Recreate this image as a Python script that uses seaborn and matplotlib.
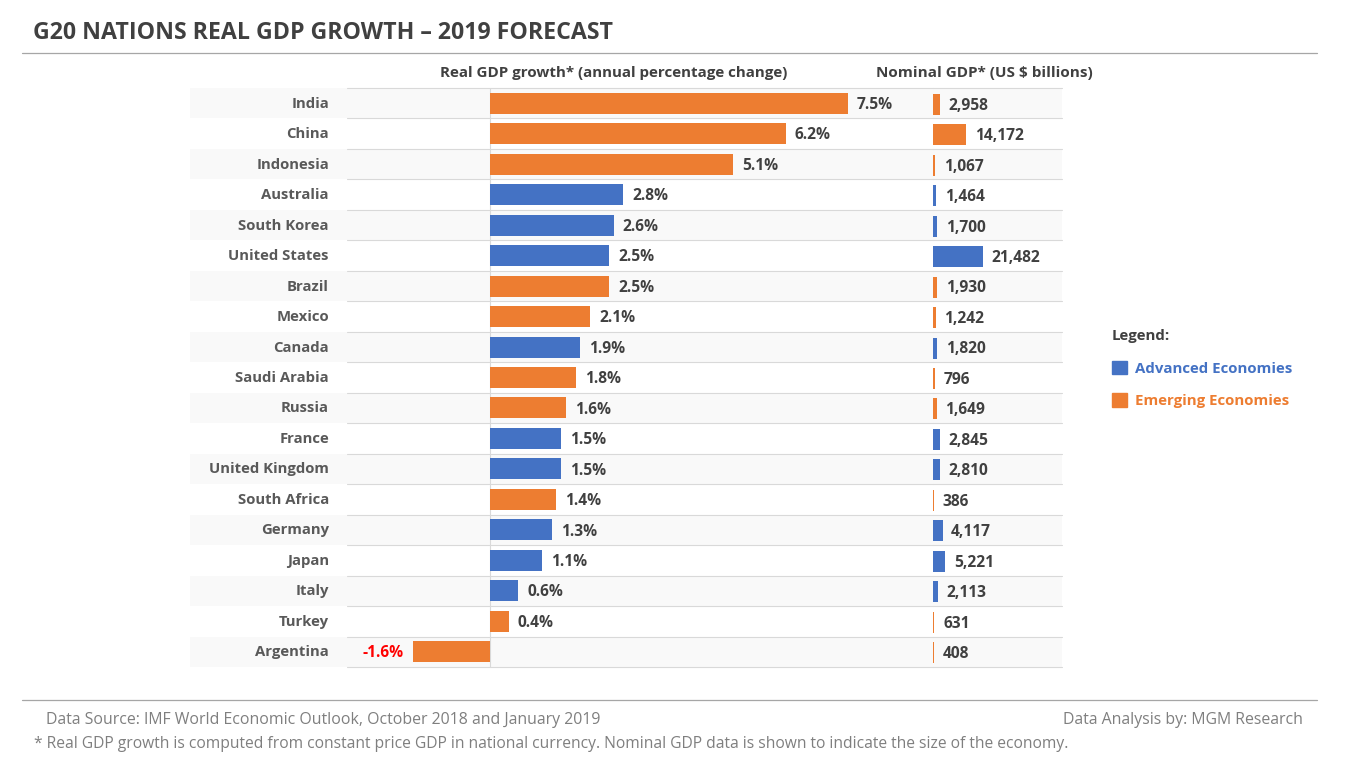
import pandas as pd
import matplotlib
matplotlib.use("Agg")
import matplotlib.pyplot as plt
from matplotlib.patches import Patch
from matplotlib.transforms import ScaledTranslation
import seaborn as sns

W, H = 1350, 767

countries = ["India", "China", "Indonesia", "Australia", "South Korea", "United States", "Brazil",
             "Mexico", "Canada", "Saudi Arabia", "Russia", "France", "United Kingdom", "South Africa",
             "Germany", "Japan", "Italy", "Turkey", "Argentina"]
growth = [7.5, 6.2, 5.1, 2.8, 2.6, 2.5, 2.5, 2.1, 1.9, 1.8, 1.6, 1.5, 1.5, 1.4, 1.3, 1.1, 0.6, 0.4, -1.6]
nominal = [2958, 14172, 1067, 1464, 1700, 21482, 1930, 1242, 1820, 796, 1649, 2845, 2810, 386, 4117, 5221,
           2113, 631, 408]
groups = ["Emerging", "Emerging", "Emerging", "Advanced", "Advanced", "Advanced", "Emerging", "Emerging",
          "Advanced", "Emerging", "Emerging", "Advanced", "Advanced", "Emerging", "Advanced", "Advanced",
          "Advanced", "Emerging", "Emerging"]

BLUE = "#4472C4"
ORANGE = "#ED7D31"
palette = {"Advanced": BLUE, "Emerging": ORANGE}

sns.set_theme(style="white")
plt.rcParams["font.family"] = ["Open Sans", "DejaVu Sans"]

df = pd.DataFrame({"Country": countries, "Growth": growth, "Nominal": nominal, "Group": groups})


def px_axes(fig, x0, y0, x1, y1):
    # position given in picture pixels, y from the top
    ax = fig.add_axes([x0 / W, 1 - y1 / H, (x1 - x0) / W, (y1 - y0) / H])
    ax.patch.set_alpha(0)
    for s in ax.spines.values():
        s.set_visible(False)
    return ax


fig = plt.figure(figsize=(W / 100, H / 100), dpi=100, facecolor="white")

# alternating row bands
bg = px_axes(fig, 190, 88, 1062, 667)
bg.set_xlim(0, 1)
bg.set_ylim(18.5, -0.5)
bg.set_xticks([])
bg.set_yticks([])
for i in range(0, len(countries), 2):
    bg.axhspan(i - 0.5, i + 0.5, color="#F9F9F9", lw=0)

# growth panel
ax1 = px_axes(fig, 347, 88, 933, 667)
sns.barplot(data=df, y="Country", x="Growth", hue="Group", palette=palette, dodge=False, legend=False,
            width=0.69, saturation=1, linewidth=0, ax=ax1)
ax1.set_xlim((347 - 489.5) / 47.8, (933 - 489.5) / 47.8)
ax1.set_ylim(18.5, -0.5)
ax1.set_xlabel("")
ax1.set_ylabel("")
ax1.set_xticks([])
ax1.tick_params(axis="y", length=0, pad=13)
for lab in ax1.get_yticklabels():
    lab.set_fontsize(10.75)
    lab.set_fontweight("bold")
    lab.set_color("#595959")
    lab.set_transform(lab.get_transform() + ScaledTranslation(0, 1 / 100, fig.dpi_scale_trans))
ax1.axvline(0, color="#D9D9D9", lw=0.8, zorder=0)
for i, v in enumerate(growth):
    if v < 0:
        ax1.annotate(f"{v:.1f}%", (v, i), xytext=(-6.5, -1.2), textcoords="offset points", ha="right",
                     va="center", fontsize=11.2, fontweight="bold", color="#FF0000")
    else:
        ax1.annotate(f"{v:.1f}%", (v, i), xytext=(6.5, -1.2), textcoords="offset points", ha="left",
                     va="center", fontsize=11.2, fontweight="bold", color="#404040")

# nominal GDP panel
ax2 = px_axes(fig, 933, 89, 1062, 668)
sns.barplot(data=df, y="Country", x="Nominal", hue="Group", palette=palette, dodge=False, legend=False,
            width=0.69, saturation=1, linewidth=0, ax=ax2)
ax2.set_xlim(0, 129 / (50 / 21482))
ax2.set_ylim(18.5, -0.5)
ax2.set_xlabel("")
ax2.set_ylabel("")
ax2.set_xticks([])
ax2.set_yticks([])
for i, v in enumerate(nominal):
    ax2.annotate(f"{v:,}", (v, i), xytext=(6.2, -1.0), textcoords="offset points", ha="left",
                 va="center", fontsize=11.2, fontweight="bold", color="#404040")

# row separators
for ax, off in ((ax1, 0), (ax2, 1 / 30.47)):
    for i in range(len(countries) + 1):
        ax.axhline(i - 0.5 - off, color="#D9D9D9", lw=0.8, zorder=0, clip_on=False)

fig.text(440 / W, 1 - 73 / H, "Real GDP growth* (annual percentage change)", fontsize=10.87, fontweight="bold",
         color="#404040", va="center")
fig.text(876 / W, 1 - 73 / H, "Nominal GDP* (US $ billions)", fontsize=10.95, fontweight="bold",
         color="#404040", va="center")

# title and footer
fig.text(33 / W, 1 - 33 / H, "G20 NATIONS REAL GDP GROWTH \u2013 2019 FORECAST", fontsize=16.65, fontweight="bold",
         color="#404040", va="center")
fig.add_artist(plt.Line2D([22 / W, 1317 / W], [1 - 53 / H] * 2, color="#A6A6A6", lw=0.9))
fig.add_artist(plt.Line2D([22 / W, 1317 / W], [1 - 700 / H] * 2, color="#A6A6A6", lw=0.9))
fig.text(46 / W, 1 - 720 / H, "Data Source: IMF World Economic Outlook, October 2018 and January 2019",
         fontsize=11.42, color="#7F7F7F", va="center")
fig.text(1303 / W, 1 - 720 / H, "Data Analysis by: MGM Research", fontsize=11.42, color="#7F7F7F", va="center",
         ha="right")
fig.text(34 / W, 1 - 744 / H,
         "* Real GDP growth is computed from constant price GDP in national currency. "
         "Nominal GDP data is shown to indicate the size of the economy.",
         fontsize=11.24, color="#7F7F7F", va="center")

# legend
handles = [Patch(color=BLUE, label="Advanced Economies"), Patch(color=ORANGE, label="Emerging Economies")]
leg = fig.legend(handles=handles, title="Legend:", loc="upper left", bbox_to_anchor=(1112 / W, 1 - 329 / H),
                 frameon=False, alignment="left", borderpad=0, borderaxespad=0, handlelength=1.0,
                 handleheight=1.0, handletextpad=0.5, labelspacing=1.17,
                 labelcolor=[BLUE, ORANGE], prop={"size": 10.85, "weight": "bold"},
                 title_fontproperties={"size": 10.85, "weight": "bold"})
leg.get_title().set_color("#404040")

fig.savefig("out.png", dpi=100)
